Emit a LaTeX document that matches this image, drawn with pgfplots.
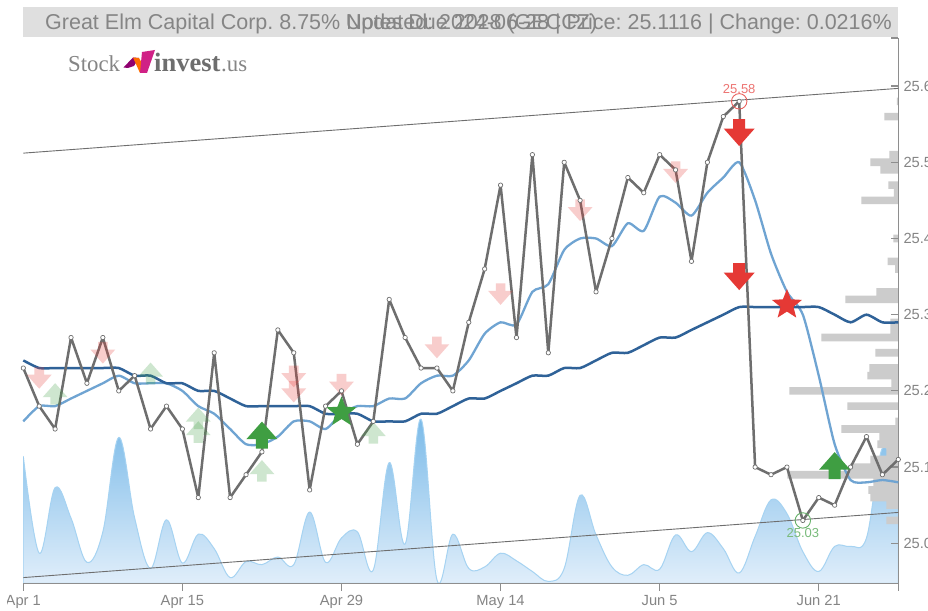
\documentclass[border=0pt]{standalone}
\usepackage{pgfplots}
\usepackage{pgfplotstable}
\usepackage{fontspec}
\setmainfont{Liberation Sans}
\newfontfamily\logofont{Liberation Serif}
\pgfplotsset{compat=1.18}
\definecolor{txtgray}{HTML}{858585}
\definecolor{axgray}{HTML}{8E8E8E}
\definecolor{band}{HTML}{DFDFDF}
\definecolor{price}{HTML}{6E6E6E}
\definecolor{lblue}{HTML}{6FA4D2}
\definecolor{dblue}{HTML}{2F6298}
\definecolor{bargray}{HTML}{CCCCCC}
\definecolor{sred}{HTML}{E53935}
\definecolor{sgreen}{HTML}{3F9E42}
\definecolor{areatop}{HTML}{78B9E8}
\definecolor{areabot}{HTML}{EAF3FC}
\definecolor{areaedge}{HTML}{A6D3F2}
\pgfdeclareplotmark{arrdown}{%
 \pgfpathmoveto{\pgfqpoint{-6pt}{13.5pt}}\pgfpathlineto{\pgfqpoint{6pt}{13.5pt}}%
 \pgfpathlineto{\pgfqpoint{6pt}{4pt}}\pgfpathlineto{\pgfqpoint{15.5pt}{4pt}}%
 \pgfpathlineto{\pgfqpoint{0pt}{-13.5pt}}\pgfpathlineto{\pgfqpoint{-15.5pt}{4pt}}%
 \pgfpathlineto{\pgfqpoint{-6pt}{4pt}}\pgfpathclose\pgfusepathqfill}
\pgfdeclareplotmark{arrup}{%
 \pgfpathmoveto{\pgfqpoint{-6pt}{-13.5pt}}\pgfpathlineto{\pgfqpoint{6pt}{-13.5pt}}%
 \pgfpathlineto{\pgfqpoint{6pt}{-4pt}}\pgfpathlineto{\pgfqpoint{15.5pt}{-4pt}}%
 \pgfpathlineto{\pgfqpoint{0pt}{13.5pt}}\pgfpathlineto{\pgfqpoint{-15.5pt}{-4pt}}%
 \pgfpathlineto{\pgfqpoint{-6pt}{-4pt}}\pgfpathclose\pgfusepathqfill}
\pgfdeclareplotmark{bigstar}{%
 \pgfpathmoveto{\pgfqpoint{0pt}{15.8pt}}\pgfpathlineto{\pgfqpoint{4pt}{5.5pt}}%
 \pgfpathlineto{\pgfqpoint{15.03pt}{4.88pt}}\pgfpathlineto{\pgfqpoint{6.47pt}{-2.1pt}}%
 \pgfpathlineto{\pgfqpoint{9.29pt}{-12.78pt}}\pgfpathlineto{\pgfqpoint{0pt}{-6.8pt}}%
 \pgfpathlineto{\pgfqpoint{-9.29pt}{-12.78pt}}\pgfpathlineto{\pgfqpoint{-6.47pt}{-2.1pt}}%
 \pgfpathlineto{\pgfqpoint{-15.03pt}{4.88pt}}\pgfpathlineto{\pgfqpoint{-4pt}{5.5pt}}%
 \pgfpathclose\pgfusepathqfill}
\pgfplotstableread{
x y
0 25.23
1 25.18
2 25.15
3 25.27
4 25.21
5 25.27
6 25.20
7 25.22
8 25.15
9 25.18
10 25.15
11 25.06
12 25.25
13 25.06
14 25.09
15 25.12
16 25.28
17 25.25
18 25.07
19 25.18
20 25.20
21 25.13
22 25.16
23 25.32
24 25.27
25 25.23
26 25.23
27 25.20
28 25.29
29 25.36
30 25.47
31 25.27
32 25.51
33 25.25
34 25.50
35 25.45
36 25.33
37 25.40
38 25.48
39 25.46
40 25.51
41 25.49
42 25.37
43 25.50
44 25.56
45 25.58
46 25.10
47 25.09
48 25.10
49 25.03
50 25.06
51 25.05
52 25.10
53 25.14
54 25.09
55 25.11
}\pricetable
\pgfplotstableread{
x y
0 25.24
1 25.23
2 25.23
3 25.23
4 25.23
5 25.23
6 25.23
7 25.22
8 25.22
9 25.21
10 25.21
11 25.20
12 25.20
13 25.19
14 25.18
15 25.18
16 25.18
17 25.18
18 25.18
19 25.17
20 25.17
21 25.17
22 25.16
23 25.16
24 25.16
25 25.17
26 25.17
27 25.18
28 25.19
29 25.19
30 25.20
31 25.21
32 25.22
33 25.22
34 25.23
35 25.23
36 25.24
37 25.25
38 25.25
39 25.26
40 25.27
41 25.27
42 25.28
43 25.29
44 25.30
45 25.31
46 25.31
47 25.31
48 25.31
49 25.31
50 25.31
51 25.30
52 25.29
53 25.30
54 25.29
55 25.29
}\matable
\pgfplotstableread{
x y
0 25.16
1 25.18
2 25.18
3 25.19
4 25.20
5 25.21
6 25.22
7 25.21
8 25.21
9 25.21
10 25.20
11 25.18
12 25.17
13 25.15
14 25.13
15 25.13
16 25.14
17 25.16
18 25.16
19 25.15
20 25.17
21 25.18
22 25.18
23 25.19
24 25.19
25 25.21
26 25.22
27 25.22
28 25.24
29 25.275
30 25.29
31 25.287
32 25.33
33 25.34
34 25.385
35 25.40
36 25.40
37 25.39
38 25.42
39 25.41
40 25.455
41 25.447
42 25.43
43 25.46
44 25.48
45 25.50
46 25.45
47 25.38
48 25.33
49 25.30
50 25.22
51 25.13
52 25.083
53 25.08
54 25.083
55 25.08
}\fasttable
\pgfplotstableread{
x y
0 25.114
1 24.987
2 25.073
3 25.033
4 24.975
5 25.015
6 25.139
7 25.033
8 24.967
9 25.031
10 24.974
11 25.012
12 24.993
13 24.955
14 24.976
15 24.972
16 24.982
17 24.972
18 25.041
19 24.975
20 25.007
21 25.015
22 24.965
23 25.106
24 24.999
25 25.163
26 24.952
27 25.012
28 24.967
29 24.969
30 24.987
31 24.977
32 24.963
33 24.950
34 24.967
35 25.063
36 25.011
37 24.969
38 24.958
39 24.972
40 24.966
41 25.011
42 24.989
43 25.014
44 24.993
45 24.961
46 25.009
47 25.057
48 25.039
49 24.989
50 24.963
51 24.996
52 24.996
53 25.007
54 25.125
55 25.081
}\voltable
\pgfplotstableread{
w y
1.5 25.58
14 25.56
9 25.51
28 25.50
18 25.49
10 25.47
4.5 25.46
37 25.45
5 25.40
10.7 25.37
3.3 25.36
22 25.33
53 25.32
8 25.29
8 25.28
77 25.27
23 25.25
29 25.23
31 25.22
7 25.21
109 25.20
51 25.18
3 25.16
57 25.15
19 25.14
21 25.13
12 25.12
28 25.11
48 25.10
111 25.09
25 25.08
30 25.07
28 25.06
12 25.05
12 25.03
}\bartable
\pgfplotsset{base/.style={at={(23.3pt,26.7pt)},anchor=south west,scale only axis,
  width=875pt,height=545.3pt,ymin=24.9475,ymax=25.6631}}
\frenchspacing
\begin{document}
\begin{tikzpicture}[x=1pt,y=1pt,line join=round]
\useasboundingbox (0,0) rectangle (928,610);
\fill[white] (0,0) rectangle (928,610);
% title band
\fill[band] (23,573) rectangle (898,603);
\node[anchor=base west,inner sep=0,text=txtgray,font=\fontsize{21.5}{24}\selectfont] at (45,580.5) {Great Elm Capital Corp. 8.75\% Notes Due 2028 (GECCZ)};
\node[anchor=base east,inner sep=0,text=txtgray,font=\fontsize{21.5}{24}\selectfont] at (892,580.5) {Updated: 2024-06-28 | Price: 25.1116 | Change: 0.0216\%};
% logo
\node[anchor=base west,inner sep=0,text=txtgray,font=\logofont\fontsize{22.8}{24}\selectfont] at (68,538) {Stock};
\node[anchor=base west,inner sep=0,text=price,font=\logofont\bfseries\fontsize{26.5}{27}\selectfont] at (154,538) {invest};
\node[anchor=base west,inner sep=0,text=txtgray,font=\logofont\fontsize{22.8}{24}\selectfont] at (221,538) {.us};
\fill[purple!75!blue] (123.5,542.5) -- (133,552.5) -- (139,552) -- (134,544) -- (128,542) -- cycle;
\fill[orange!85!red] (133,552.5) -- (139,552) -- (147,538) -- (140,537) -- cycle;
\fill[magenta!85!black] (140,537) -- (147,537) -- (155,560) -- (142,558) -- cycle;
% area layer
\begin{axis}[base,hide axis,xmin=0,xmax=55]
\addplot[draw=areaedge,line width=1pt,smooth,tension=.6,
  top color=areatop,bottom color=areabot] table[x=x,y=y] {\voltable} \closedcycle;
\end{axis}
% distribution bars
\begin{axis}[base,hide axis,xmin=0,xmax=875,x dir=reverse]
\addplot[xbar,bar width=7.6pt,fill=bargray,draw=none] table[x=w,y=y] {\bartable};
\end{axis}
% main layer
\begin{axis}[base,xmin=0,xmax=55,clip=false,
  axis y line*=right,axis x line*=bottom,
  axis line style={axgray,line width=1.4pt,-},
  xtick={0,10,20,30,40,50},xticklabels={Apr 1,Apr 15,Apr 29,May 14,Jun 5,Jun 21},
  extra x ticks={55},extra x tick labels={},
  ytick={25,25.1,25.2,25.3,25.4,25.5,25.6},
  extra y ticks={25.6631},extra y tick labels={},
  /pgf/number format/.cd,fixed,fixed zerofill,precision=1,assume math mode=true,/pgfplots/.cd,
  tick style={axgray,line width=1.2pt},
  xtick align=outside,ytick align=inside,
  major tick length=7.5pt,
  tick label style={text=txtgray,font=\fontsize{14.7}{16}\selectfont},
  yticklabel style={anchor=west,inner sep=0,xshift=5pt},
  xticklabel style={inner sep=0,yshift=-4pt},
  ]
% weak signals
\addplot[only marks,mark=arrdown,mark options={scale=.8,fill=sred,fill opacity=.25,draw=none}] coordinates {
 (1,25.217)(5,25.25)(17,25.219)(17,25.199)(20,25.208)(26,25.257)(30,25.327)(35,25.437)(41,25.487)};
\addplot[only marks,mark=arrup,mark options={scale=.8,fill=sgreen,fill opacity=.25,draw=none}] coordinates {
 (2,25.196)(8,25.223)(11,25.164)(11,25.146)(15,25.095)(22,25.145)};
% channel
\addplot[price,line width=.9pt,no marks] coordinates {(0,25.512)(55,25.597)};
\addplot[price,line width=.9pt,no marks] coordinates {(0,24.955)(55,25.0405)};
% averages
\addplot[lblue,line width=2.3pt,no marks,smooth,tension=.4] table[x=x,y=y] {\fasttable};
\addplot[dblue,line width=2.5pt,no marks,smooth,tension=.4] table[x=x,y=y] {\matable};
% price
\addplot[price,line width=2.5pt,line join=round,mark=*,mark size=2.2pt,mark options={fill=white,draw=price,line width=.7pt}] table[x=x,y=y] {\pricetable};
% extremes
\addplot[only marks,mark=o,mark size=7.7pt,mark options={draw=sred!80!white,line width=.9pt},
  nodes near coords={25.58},nodes near coords style={text=sred!70!white,font=\fontsize{13}{14}\selectfont,anchor=south,inner sep=0,yshift=7pt}] coordinates {(45,25.58)};
\addplot[only marks,mark=o,mark size=7.7pt,mark options={draw=sgreen!80!white,line width=.9pt},
  nodes near coords={25.03},nodes near coords style={text=sgreen!70!white,font=\fontsize{13}{14}\selectfont,anchor=north,inner sep=0,yshift=-8pt}] coordinates {(49,25.03)};
% strong signals
\addplot[only marks,mark=arrdown,mark options={fill=sred,draw=none}] coordinates {(45,25.539)(45,25.35)};
\addplot[only marks,mark=arrup,mark options={fill=sgreen,draw=none}] coordinates {(15,25.142)(51,25.102)};
\addplot[only marks,mark=bigstar,mark options={fill=sred,draw=none}] coordinates {(48,25.313)};
\addplot[only marks,mark=bigstar,mark options={fill=sgreen,draw=none}] coordinates {(20,25.172)};
\end{axis}
\fill[white] (0,0) rectangle (7,20);
\end{tikzpicture}
\end{document}
